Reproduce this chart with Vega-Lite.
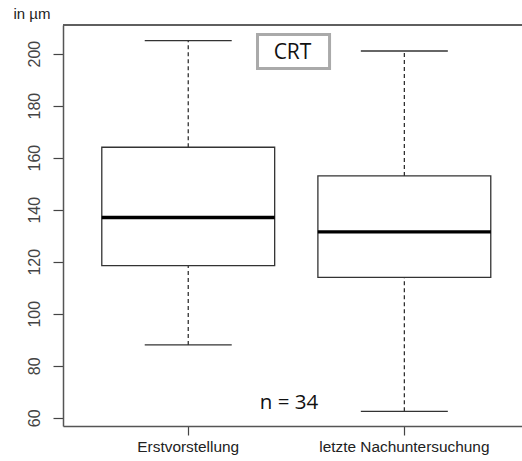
{
  "$schema": "https://vega.github.io/schema/vega-lite/v6.json",
  "width": 459,
  "height": 401,
  "autosize": {"type": "none"},
  "padding": {"left": 63, "top": 25, "right": 0, "bottom": 35},
  "background": "white",
  "config": {"view": {"stroke": null}, "font": "Liberation Sans"},
  "datasets": {
    "stats": [
      {"group": "Erstvorstellung", "min": 88, "q1": 118.5, "median": 137, "q3": 164, "max": 205},
      {"group": "letzte Nachuntersuchung", "min": 62.5, "q1": 114, "median": 131.5, "q3": 153, "max": 201}
    ],
    "notes": [{"label": "CRT"}, {"label": "n = 34"}]
  },
  "resolve": {"scale": {"x": "independent"}, "axis": {"x": "independent"}},
  "layer": [
    {
      "data": {"name": "stats"},
      "encoding": {
        "x": {
          "field": "group",
          "type": "nominal",
          "sort": null,
          "scale": {"paddingInner": 0.2, "paddingOuter": 0.162, "align": 0.554},
          "axis": {
            "title": null,
            "labelAngle": 0,
            "labelFont": "Liberation Sans",
            "labelFontSize": 15.4,
            "labelColor": "#222",
            "labelPadding": 4,
            "tickSize": 9,
            "tickColor": "#444",
            "tickWidth": 1.2,
            "domainColor": "#555",
            "domainWidth": 1.5
          }
        }
      },
      "layer": [
        {
          "mark": {"type": "rule", "color": "#555", "strokeWidth": 1.5},
          "encoding": {"x": null, "y": {"datum": 211}}
        },
        {
          "mark": {"type": "rule", "color": "#222", "strokeWidth": 1.2, "strokeDash": [4, 3]},
          "encoding": {
            "y": {
              "field": "q3",
              "type": "quantitative",
              "scale": {"domain": [56.85, 211], "nice": false, "zero": false},
              "axis": {
                "values": [60, 80, 100, 120, 140, 160, 180, 200],
                "grid": false,
                "labelAngle": -90,
                "labelFont": "Liberation Sans",
                "labelFontSize": 16,
                "labelColor": "#444",
                "labelPadding": 11,
                "tickSize": 10,
                "tickColor": "#444",
                "tickWidth": 1.2,
                "domainColor": "#555",
                "domainWidth": 1.5,
                "title": "in µm",
                "titleAngle": 0,
                "titleX": -50,
                "titleY": -7,
                "titleAlign": "left",
                "titleBaseline": "alphabetic",
                "titleFont": "Liberation Sans",
                "titleFontSize": 15,
                "titleFontWeight": "normal",
                "titleColor": "#222"
              }
            },
            "y2": {"field": "max"}
          }
        },
        {
          "mark": {"type": "rule", "color": "#222", "strokeWidth": 1.2, "strokeDash": [4, 3]},
          "encoding": {
            "y": {"field": "min", "type": "quantitative"},
            "y2": {"field": "q1"}
          }
        },
        {
          "mark": {"type": "tick", "color": "#333", "opacity": 1, "size": 87, "thickness": 1.3},
          "encoding": {"y": {"field": "max", "type": "quantitative"}}
        },
        {
          "mark": {"type": "tick", "color": "#333", "opacity": 1, "size": 87, "thickness": 1.3},
          "encoding": {"y": {"field": "min", "type": "quantitative"}}
        },
        {
          "mark": {"type": "bar", "fill": "white", "stroke": "#333", "strokeWidth": 1.3},
          "encoding": {
            "y": {"field": "q1", "type": "quantitative"},
            "y2": {"field": "q3"}
          }
        },
        {
          "mark": {"type": "tick", "color": "#000", "opacity": 1, "size": 173, "thickness": 3.3},
          "encoding": {"y": {"field": "median", "type": "quantitative"}}
        }
      ]
    },
    {
      "data": {"name": "notes"},
      "encoding": {},
      "layer": [
        {
          "transform": [{"filter": "datum.label === 'CRT'"}],
          "mark": {"type": "rect", "fill": "white", "stroke": "#aaa", "strokeWidth": 3},
          "encoding": {
            "x": {"datum": 1.3205, "type": "quantitative", "scale": {"domain": [0.42, 2.545], "nice": false, "zero": false}, "axis": null},
            "x2": {"datum": 1.654},
            "y": {"datum": 207.35, "type": "quantitative"},
            "y2": {"datum": 194.3}
          }
        },
        {
          "transform": [{"filter": "datum.label === 'CRT'"}],
          "mark": {"type": "text", "font": "Open Sans", "fontSize": 21, "color": "#111", "baseline": "alphabetic", "align": "center"},
          "encoding": {
            "x": {"datum": 1.4825, "type": "quantitative"},
            "y": {"datum": 198.1, "type": "quantitative"},
            "text": {"field": "label"}
          }
        },
        {
          "transform": [{"filter": "datum.label === 'n = 34'"}],
          "mark": {"type": "text", "font": "Open Sans", "fontSize": 20.5, "color": "#111", "baseline": "alphabetic", "align": "center"},
          "encoding": {
            "x": {"datum": 1.466, "type": "quantitative"},
            "y": {"datum": 63.3, "type": "quantitative"},
            "text": {"field": "label"}
          }
        }
      ]
    }
  ]
}
